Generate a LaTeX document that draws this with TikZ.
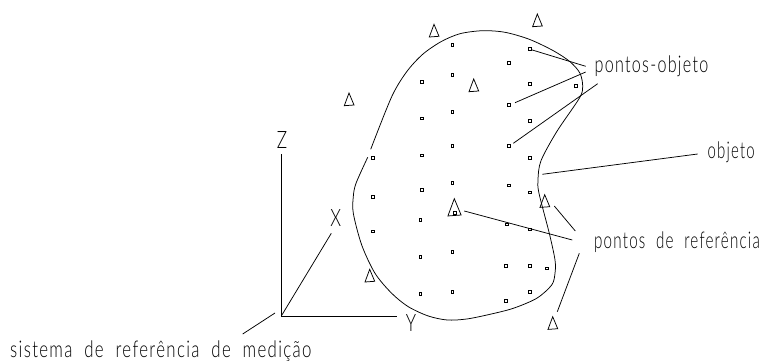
\documentclass[tikz,border=0pt]{standalone}
\usepackage{fontspec}
\setmainfont{Liberation Sans}
\newfontfamily\labelfont[LetterSpace=8,WordSpace=2]{Lato Light}
\tikzset{
  thinline/.style={black, line width=0.75pt},
  objpoint/.style={draw=black, line width=0.8pt, fill=white, inner sep=0pt, minimum size=2.8pt},
  reftri/.pic={\draw[thinline] (0,0) -- (-4.7,12.7) -- (5,12) -- cycle;},
  caption/.style={inner sep=0pt, font=\labelfont\fontsize{23}{23}\selectfont, anchor=base west},
  axisname/.style={inner sep=0pt, font=\labelfont\fontsize{24}{24}\selectfont, xscale=0.72}
}

\begin{document}
\begin{tikzpicture}[x=1pt,y=-1pt]
\useasboundingbox (0,0) rectangle (761,361);
\draw[thinline] plot[smooth, tension=0.5] coordinates {(370.7,149.3) (391.7,96.7) (406.7,71.7) (422.7,54.3) (441,41.7) (460,33.7) (482.7,30.7) (505,32.3) (529.3,39.3) (553.3,50.7) (570,61.7) (580,73.3) (582.7,86.7) (579.3,98.3) (556.7,131.7) (541,160.7) (538,179.3) (539,193.3) (549.3,233.3) (555,260) (555,273.3) (551.7,285) (536.7,298.3) (513.3,308.3) (490,314.3) (466.7,319) (447.3,320) (428.3,316) (408.3,306.7) (391.7,293.3) (375,273.3) (361.7,245) (353.3,213.3) (353.3,196.7) (356,183.3) (367.7,157.3)};
\node[objpoint] (p1) at (452.3,44.7) {};
\node[objpoint] (p2) at (530,49.3) {};
\node[objpoint] (p3) at (508.7,63) {};
\node[objpoint] (p4) at (422,81.7) {};
\node[objpoint] (p5) at (452.3,74.7) {};
\node[objpoint] (p6) at (530,84) {};
\node[objpoint] (p7) at (575.7,86.3) {};
\node[objpoint] (p8) at (508.7,104.7) {};
\node[objpoint] (p9) at (422,118.3) {};
\node[objpoint] (p10) at (452.3,111.7) {};
\node[objpoint] (p11) at (530,121) {};
\node[objpoint] (p12) at (422,155.3) {};
\node[objpoint] (p13) at (452.3,146) {};
\node[objpoint] (p14) at (508.7,146) {};
\node[objpoint] (p15) at (373,157.7) {};
\node[objpoint] (p16) at (530,157.7) {};
\node[objpoint] (p17) at (452.3,183) {};
\node[objpoint] (p18) at (422,190) {};
\node[objpoint] (p19) at (508.7,185.3) {};
\node[objpoint] (p20) at (530,192.3) {};
\node[objpoint] (p21) at (373,196.7) {};
\node[objpoint] (p22) at (454.7,212.7) {};
\node[objpoint] (p23) at (420.3,220) {};
\node[objpoint] (p24) at (507,224.3) {};
\node[objpoint] (p25) at (530,229.3) {};
\node[objpoint] (p26) at (373,231.3) {};
\node[objpoint] (p27) at (452.3,252) {};
\node[objpoint] (p28) at (420.3,256.7) {};
\node[objpoint] (p29) at (505.7,266) {};
\node[objpoint] (p30) at (530,266) {};
\node[objpoint] (p31) at (546.7,268.3) {};
\node[objpoint] (p32) at (452.3,291.7) {};
\node[objpoint] (p33) at (420.3,293.7) {};
\node[objpoint] (p34) at (530,291.7) {};
\node[objpoint] (p35) at (505.7,300.7) {};
\pic at (434,24.3) {reftri};
\pic at (537.3,14) {reftri};
\pic at (473.7,79) {reftri};
\pic at (349,93) {reftri};
\pic[scale=1.36] at (454.3,198.7) {reftri};
\pic at (544.7,194.7) {reftri};
\pic at (369.7,269.3) {reftri};
\pic at (552.7,316.7) {reftri};
\coordinate (origin) at (281.3,316);
\coordinate (zend) at (281.3,154);
\coordinate (yend) at (396.7,316);
\coordinate (xend) at (331.3,233.3);
\draw[thinline] (zend) -- (origin) -- (yend);
\draw[thinline] (origin) -- (xend);
\node[axisname] (zname) at (282,140) {Z};
\node[axisname] (xname) at (335.7,218) {X};
\node[axisname] (yname) at (411,323.5) {Y};
\node[caption, xscale=0.70] (ptobj) at (594.5,73) {pontos-objeto};
\node[caption, xscale=0.65] (obj) at (707.5,158) {objeto};
\node[caption, xscale=0.66] (ptref) at (594,248) {pontos de referência};
\node[caption, xscale=0.732] (sysref) at (10,357.3) {sistema de referência de medição};
\coordinate (a1) at (585.7,66.3);
\coordinate (a2) at (585.7,72);
\coordinate (a3) at (597.7,83.7);
\coordinate (b2) at (515,102.7);
\coordinate (b3) at (513.3,143.3);
\coordinate (c1) at (697.7,154);
\coordinate (c2) at (542.3,174.3);
\coordinate (d1) at (572.3,240);
\coordinate (d2) at (464.3,211);
\coordinate (e1) at (575.3,231);
\coordinate (e2) at (554.3,206);
\coordinate (f1) at (579.3,253.3);
\coordinate (f2) at (557.3,311.7);
\coordinate (g1) at (242.7,334);
\coordinate (g2) at (275,313);
\draw[thinline] (a1) -- (p2);
\draw[thinline] (a2) -- (b2);
\draw[thinline] (a3) -- (b3);
\draw[thinline] (c1) -- (c2);
\draw[thinline] (d1) -- (d2);
\draw[thinline] (e1) -- (e2);
\draw[thinline] (f1) -- (f2);
\draw[thinline] (g1) -- (g2);
\end{tikzpicture}
\end{document}
